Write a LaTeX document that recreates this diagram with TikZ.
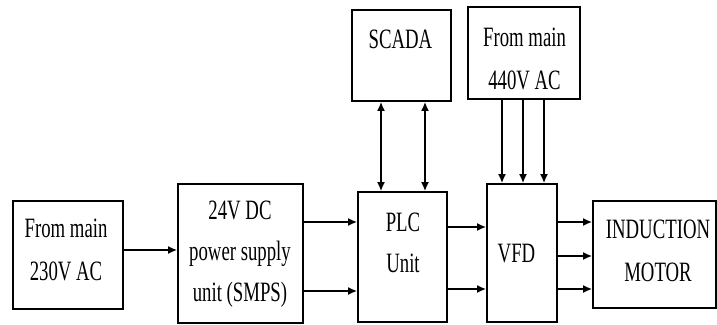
\documentclass[tikz,border=0pt]{standalone}
\usepackage{fontspec}
\setmainfont[FakeStretch=0.67]{Liberation Serif}
\usetikzlibrary{arrows.meta}
\tikzset{
  box/.style={draw=black, line width=1.7pt, inner sep=0pt, fill=white},
  txt/.style={align=center, inner sep=0pt, font=\fontsize{28}{43}\selectfont},
  txtb/.style={txt, font=\fontsize{28}{41}\selectfont},
  arr/.style={line width=1.7pt, -{Latex[length=9pt,width=8pt]}},
  darr/.style={line width=1.7pt, {Latex[length=9pt,width=8pt]}-{Latex[length=9pt,width=8pt]}}
}
\begin{document}
\begin{tikzpicture}[x=1pt,y=-1pt]
\useasboundingbox (0,0) rectangle (717,324);
% boxes
\node[box, minimum width=110pt, minimum height=108pt] (b1) at (68,255) {};
\node[box, minimum width=125pt, minimum height=139pt] (b2) at (240.5,253.5) {};
\node[box, minimum width=89pt, minimum height=130pt] (plc) at (402.5,257) {};
\node[box, minimum width=70pt, minimum height=138pt] (vfd) at (522,253) {};
\node[box, minimum width=123pt, minimum height=107pt] (motor) at (654.5,254.5) {};
\node[box, minimum width=99pt, minimum height=91pt] (scada) at (401.5,55.5) {};
\node[box, minimum width=112pt, minimum height=92pt] (mains) at (524,53) {};
% texts
\node[txt] (b1t) at (66,249.5) {From main\\230V AC};
\node[txtb] (b2t) at (240,254.5) {24V DC\\power supply\\unit (SMPS)};
\node[txtb] (plct) at (403,243) {PLC\\Unit};
\node[txt] (vfdt) at (516.5,254) {VFD};
\node[txt] (motort) at (658,250.5) {INDUCTION\\MOTOR};
\node[txt] (scadat) at (400.5,39) {SCADA};
\node[txt] (mainst) at (524.5,59) {From main\\440V AC};
% connectors
\draw[arr] (b1.east |- 0,250) -- (b2.west |- 0,250);
\draw[arr] (b2.east |- 0,222) -- (plc.west |- 0,222);
\draw[arr] (b2.east |- 0,291) -- (plc.west |- 0,291);
\draw[arr] (plc.east |- 0,227) -- (vfd.west |- 0,227);
\draw[arr] (plc.east |- 0,289) -- (vfd.west |- 0,289);
\draw[arr] (vfd.east |- 0,222) -- (motor.west |- 0,222);
\draw[arr] (vfd.east |- 0,256) -- (motor.west |- 0,256);
\draw[arr] (vfd.east |- 0,289) -- (motor.west |- 0,289);
\draw[darr] (scada.south -| 381,0) -- (plc.north -| 381,0);
\draw[darr] (scada.south -| 425,0) -- (plc.north -| 425,0);
\draw[arr] (mains.south -| 502,0) -- (vfd.north -| 502,0);
\draw[arr] (mains.south -| 523,0) -- (vfd.north -| 523,0);
\draw[arr] (mains.south -| 544,0) -- (vfd.north -| 544,0);
\end{tikzpicture}
\end{document}
